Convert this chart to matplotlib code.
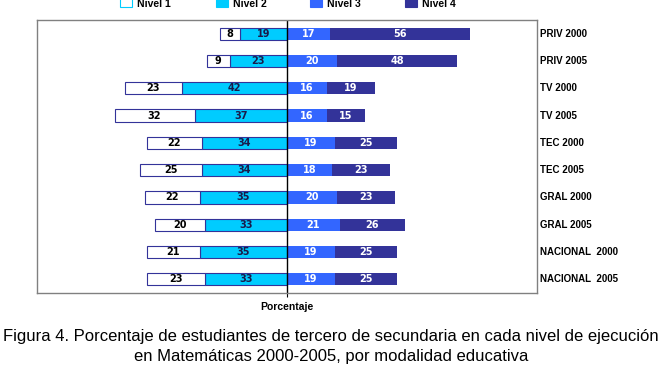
import numpy as np
import matplotlib.pyplot as plt
from matplotlib.patches import Rectangle

# =========================
# Data
# =========================
grupos = ["PRIV 2000", "PRIV 2005", "TV 2000", "TV 2005", "TEC 2000",
          "TEC 2005", "GRAL 2000", "GRAL 2005", "NACIONAL  2000", "NACIONAL  2005"]
nivel1 = [8, 9, 23, 32, 22, 25, 22, 20, 21, 23]
nivel2 = [19, 23, 42, 37, 34, 34, 35, 33, 35, 33]
nivel3 = [17, 20, 16, 16, 19, 18, 20, 21, 19, 19]
nivel4 = [56, 48, 19, 15, 25, 23, 23, 26, 25, 25]
niveles = ["Nivel 1", "Nivel 2", "Nivel 3", "Nivel 4"]

colores = ["#FFFFFF", "#00CCFF", "#3366FF", "#333399"]
borde = "#333399"

plt.rcParams["font.family"] = ["Liberation Sans", "DejaVu Sans"]

W, H = 661, 367
fig = plt.figure(figsize=(W / 100, H / 100), dpi=100)
ax = fig.add_axes([37 / W, 1 - 293 / H, 500 / W, 273 / H])

y = np.arange(len(grupos))
n1 = np.array(nivel1)
n2 = np.array(nivel2)
n3 = np.array(nivel3)
n4 = np.array(nivel4)
h = 0.45

# left side: Nivel 2 next to centre, Nivel 1 further out
ax.barh(y, -n2, height=h, color=colores[1], edgecolor=borde, linewidth=0.8)
ax.barh(y, -n1, left=-n2, height=h, color=colores[0], edgecolor=borde, linewidth=0.8)
# right side
ax.barh(y, n3, height=h, color=colores[2], linewidth=0)
ax.barh(y, n4, left=n3, height=h, color=colores[3], linewidth=0)

num = dict(ha="center", va="center", fontsize=7, fontweight="bold", family="DejaVu Sans")
for i in range(len(grupos)):
    ax.text(-n2[i] - n1[i] / 2, y[i], str(n1[i]), color="black", **num)
    ax.text(-n2[i] / 2, y[i], str(n2[i]), color="#1a1a4a", **num)
    ax.text(n3[i] / 2, y[i], str(n3[i]), color="white", **num)
    ax.text(n3[i] + n4[i] / 2, y[i], str(n4[i]), color="white", **num)
    ax.text(101, y[i], grupos[i], ha="left", va="center",
            fontsize=7, fontweight="bold", color="black", clip_on=False)

ax.axvline(0, color="black", linewidth=1.0)
ax.set_xlim(-100, 100)
ax.set_ylim(len(grupos) - 0.5, -0.5)
ax.set_xticks([0])
ax.set_xticklabels([""])
ax.tick_params(axis="x", length=3, color="black")
ax.set_yticks([])
for s in ax.spines.values():
    s.set_color("#808080")
    s.set_linewidth(1.0)
ax.set_xlabel("Porcentaje", fontsize=7.5, fontweight="bold", labelpad=0)

# legend along the top edge (partly cut, as in the original)
leg_x = [120, 216, 310, 405]
for k in range(4):
    ec = "#00CCFF" if k == 0 else colores[k]
    fig.patches.append(Rectangle((leg_x[k] / W, 1 - 7 / H), 12 / W, 9 / H,
                                 transform=fig.transFigure, facecolor=colores[k],
                                 edgecolor=ec, linewidth=0.8))
    fig.text((leg_x[k] + 17) / W, 1 - 4 / H, niveles[k], ha="left", va="center",
             fontsize=7.5, fontweight="bold")

fig.text(331 / W, 1 - 336 / H,
         "Figura 4. Porcentaje de estudiantes de tercero de secundaria en cada nivel de ejecución",
         ha="center", va="center", fontsize=12)
fig.text(331 / W, 1 - 356 / H,
         "en Matemáticas 2000-2005, por modalidad educativa",
         ha="center", va="center", fontsize=12)

fig.savefig("out.png", dpi=100)
